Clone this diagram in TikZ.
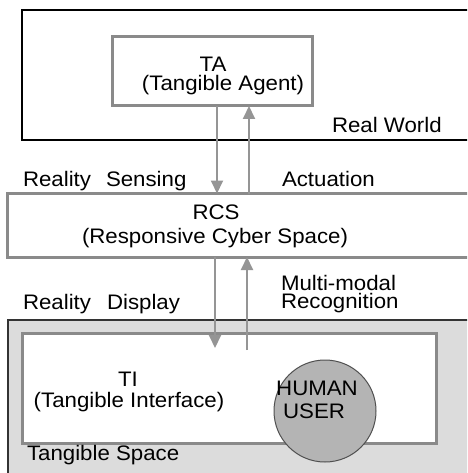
\documentclass[tikz,border=0pt]{standalone}
\usepackage{fontspec}
\setmainfont{Liberation Sans}[FakeStretch=1.06]
\usetikzlibrary{arrows.meta}
\definecolor{boxgray}{HTML}{8A8A8A}
\definecolor{flowgray}{HTML}{959595}
\definecolor{spacefill}{HTML}{DCDCDC}
\definecolor{userfill}{HTML}{B4B4B4}
\definecolor{userline}{HTML}{505050}
\begin{document}
\begin{tikzpicture}[x=1pt,y=-1pt,
  frame/.style={draw=black,line width=1.5pt,rectangle,inner sep=0pt,outer sep=0pt,anchor=north west},
  unitbox/.style={draw=boxgray,fill=white,line width=3pt,rectangle,inner sep=0pt,outer sep=0pt,anchor=north west},
  flow/.style={draw=flowgray,line width=2pt,-{Triangle[width=12pt,length=13pt]}},
  lbl/.style={font=\fontsize{21}{17}\selectfont,inner sep=0pt,outer sep=0pt,anchor=base},
  lbll/.style={lbl,anchor=base west}]
\clip (0,0) rectangle (467,473);
\fill[white] (0,0) rectangle (467,473);

% outer spaces
\node[frame,minimum width=460pt,minimum height=130pt] (world) at (22,10) {};
\node[frame,draw=black!80,fill=spacefill,line width=1.2pt,minimum width=470pt,minimum height=170pt] (tspace) at (8,320) {};

% component boxes
\node[unitbox,minimum width=200pt,minimum height=69pt] (ta) at (112,37) {};
\node[unitbox,minimum width=472pt,minimum height=63.5pt] (rcs) at (7,193.5) {};
\node[unitbox,minimum width=414pt,minimum height=110pt] (ti) at (22,333) {};
\node[circle,draw=userline,fill=userfill,line width=1pt,minimum size=102pt,inner sep=0pt] (user) at (325,411) {};

% box labels
\node[lbl] (talbl) at (213,72) {TA};
\node[lbl] (tafull) at (223,91) {(Tangible Agent)};
\node[lbll] (worldlbl) at (332,133) {Real World};
\node[lbl] (rcslbl) at (216,219) {RCS};
\node[lbl] (rcsfull) at (215,243) {(Responsive Cyber Space)};
\node[lbl] (tilbl) at (128,386) {TI};
\node[lbl] (tifull) at (129,407) {(Tangible Interface)};
\node[lbl] (human) at (317,395) {HUMAN};
\node[lbl] (userlbl) at (314,418) {USER};
\node[lbll] (spacelbl) at (27,460) {Tangible Space};

% flow labels
\node[lbll] (sensing) at (23,186) {Reality\hspace{15pt}Sensing};
\node[lbll] (actuation) at (282,186) {Actuation};
\node[lbll] (display) at (23,309) {Reality\hspace{16pt}Display};
\node[lbll] (multimodal) at (281,290) {Multi-modal};
\node[lbll] (recognition) at (281,308.5) {Recognition};

% connectors
\coordinate (xa) at (217,0);
\coordinate (xb) at (249,0);
\coordinate (xc) at (215,0);
\coordinate (xd) at (247,0);
\coordinate (dispend) at (215,348);
\coordinate (recstart) at (247,350);
\draw[flow] (ta.south -| xa) -- (rcs.north -| xa);
\draw[flow] (rcs.north -| xb) -- (ta.south -| xb);
\draw[flow] (rcs.south -| xc) -- (dispend);
\draw[flow] (recstart) -- (rcs.south -| xd);
\end{tikzpicture}
\end{document}
